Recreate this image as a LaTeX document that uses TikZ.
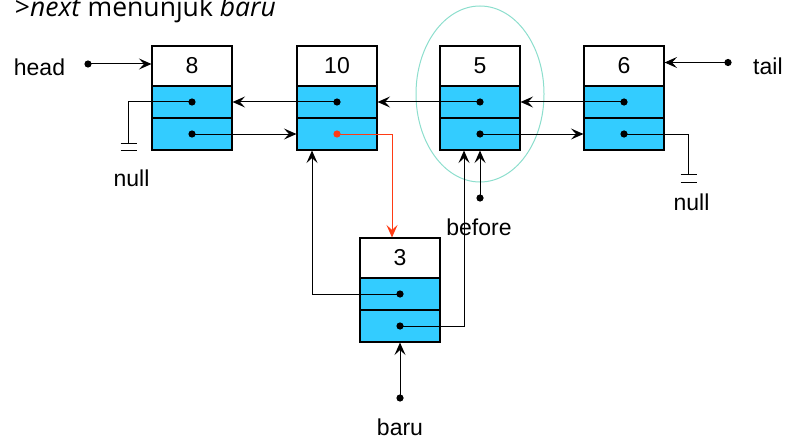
\documentclass[tikz,border=0pt]{standalone}
\usepackage{fontspec}
\setmainfont{Liberation Sans}
\newfontfamily\titlefont{Open Sans}
\usetikzlibrary{arrows.meta,calc}
\definecolor{cellblue}{HTML}{33CCFF}
\definecolor{ringcol}{RGB}{140,222,205}
\definecolor{redline}{HTML}{FF3B14}
\tikzset{
  valbox/.style={draw, line width=1.1pt, fill=white, minimum width=80pt, minimum height=40pt, inner sep=0pt, font=\fontsize{23}{27}\selectfont},
  rowbox/.style={draw, line width=1.1pt, fill=cellblue, minimum width=80pt, minimum height=32pt, inner sep=0pt},
  conn/.style={line width=1pt, -{Stealth[length=12.5pt,width=11pt,inset=5pt]}},
  wire/.style={line width=1pt},
  lbl/.style={inner sep=0pt, font=\fontsize{23}{27}\selectfont},
}
\newcommand{\dotat}[1]{\fill (#1) circle (3.6pt);}
\begin{document}
\begin{tikzpicture}[x=1pt,y=-1pt]
\useasboundingbox (0,0) rectangle (786,441);
% title
\node[anchor=base east, inner sep=0pt, font=\fontsize{26.5}{30}\selectfont\titlefont] (title) at (276,16.5) {>\textit{next} menunjuk \textit{baru}};
% ring
\draw[ringcol, line width=1pt] (480,94) ellipse [x radius=64pt, y radius=88pt];
% list nodes
\foreach \n/\x/\v in {8/192/8, 10/337/10, 5/480/5, 6/624/6}{
  \node[valbox] (n\n v) at (\x,66) {\v};
  \node[rowbox] (n\n p) at (\x,102) {};
  \node[rowbox] (n\n n) at (\x,134) {};
}
\node[valbox] (n3v) at (400,258) {3};
\node[rowbox] (n3p) at (400,294) {};
\node[rowbox] (n3n) at (400,326) {};
% labels
\node[lbl, anchor=base] (head) at (39.5,75.5) {head};
\node[lbl, anchor=base west] (tail) at (753,75) {tail};
\node[lbl, anchor=base] (null1) at (131.5,186.5) {null};
\node[lbl, anchor=base] (null2) at (691.5,210) {null};
\node[lbl, anchor=base] (before) at (479,235) {before};
\node[lbl, anchor=base] (baru) at (400,435) {baru};
% free ends
\coordinate (hd) at (88,64);
\coordinate (td) at (728,62.5);
\coordinate (bd) at (480,198);
\coordinate (nd) at (400,398);
\coordinate (g1) at (128.5,143.5);
\coordinate (g2) at (688.5,174.5);
% head / tail
\draw[conn] (hd) -- (hd -| n8v.west);
\draw[conn] (td) -- (td -| n6v.east);
\dotat{hd}\dotat{td}
% prev pointers
\draw[conn] (n10p.center) -- (n8p.east);
\draw[conn] (n5p.center) -- (n10p.east);
\draw[conn] (n6p.center) -- (n5p.east);
% next pointers
\draw[conn] (n8n.center) -- (n10n.west);
\draw[conn] (n5n.center) -- (n6n.west);
% grounds
\draw[wire] (n8p.center) -| (g1);
\draw[wire] (g1) ++(-8,0) -- ++(16,0) ++(-16,7) -- ++(16,0);
\draw[wire] (n6n.center) -| (g2);
\draw[wire] (g2) ++(-8,0) -- ++(16,0) ++(-16,7.5) -- ++(16,0);
% new node links
\draw[conn, redline] (n10n.center) -| ([xshift=-8pt]n3v.north);
\draw[conn] (n3p.center) -| ([xshift=-25pt]n10n.south);
\draw[conn] (n3n.center) -| ([xshift=-16pt]n5n.south);
\draw[conn] (bd) -- (n5n.south);
\draw[conn] (nd) -- (n3n.south);
% dots
\dotat{n8p.center}\dotat{n8n.center}
\dotat{n10p.center}
\fill[redline] (n10n.center) circle (3.6pt);
\dotat{n5p.center}\dotat{n5n.center}
\dotat{n6p.center}\dotat{n6n.center}
\dotat{n3p.center}\dotat{n3n.center}
\dotat{bd}\dotat{nd}
\end{tikzpicture}
\end{document}
